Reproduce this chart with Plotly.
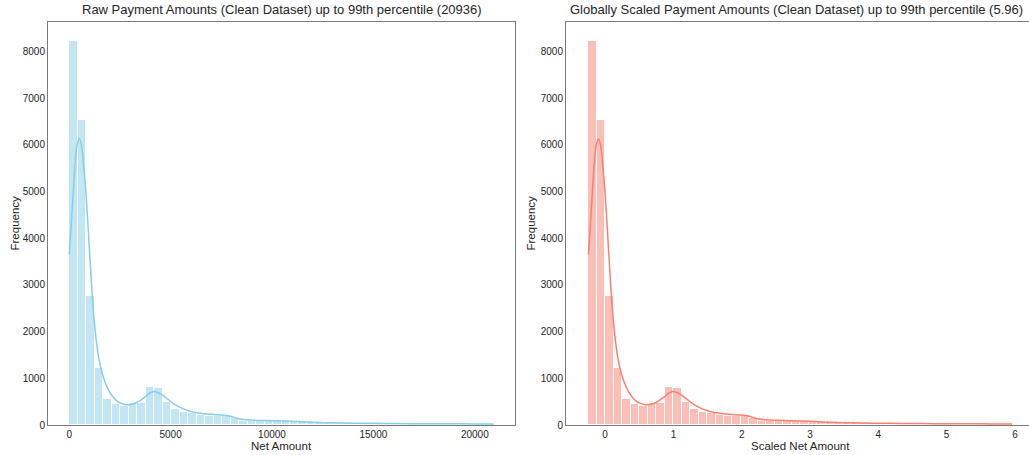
"""
Payment amount histograms (raw vs globally scaled) with KDE overlay
"""

import numpy as np
import plotly.graph_objects as go

# ---- data ----
raw_min, raw_max = 0, 20936
scaled_min, scaled_max = -0.245, 5.96
n_bins = 50

counts = [
    8220, 6540, 2770, 1230, 560, 460, 400, 460, 475, 820,
    790, 500, 340, 275, 250, 220, 200, 195, 190, 145,
    95, 95, 93, 92, 88, 82, 75, 68, 60, 54,
    50, 46, 42, 38, 35, 33, 31, 30, 29, 28,
    27, 26, 25, 24, 23, 22, 22, 21, 20, 20,
]

kde_x = [0, 100, 204, 300, 400, 500, 600, 700, 812, 950, 1100, 1250, 1450,
         1700, 2000, 2400, 2800, 3250, 3650, 4000, 4200, 4450, 4800, 5200,
         5600, 6000, 6500, 7000, 7500, 7900, 8400, 9000, 10000, 11000,
         12000, 13000, 14000, 15000, 16000, 17000, 18000, 19000, 20000, 20936]
kde_y = [3650, 4300, 5040, 5650, 6020, 6130, 6000, 5600, 5040, 4100, 3000,
         2150, 1450, 1000, 700, 500, 435, 465, 570, 690, 720, 680, 575, 440,
         350, 290, 250, 228, 212, 195, 130, 105, 92, 78, 58, 46, 39, 35, 32,
         29, 27, 25, 23, 21]

raw_ticks = [0, 5000, 10000, 15000, 20000]
scaled_ticks = [0, 1, 2, 3, 4, 5, 6]

raw_title = "Raw Payment Amounts (Clean Dataset) up to 99th percentile (20936)"
scaled_title = "Globally Scaled Payment Amounts (Clean Dataset) up to 99th percentile (5.96)"

FONT = "Liberation Sans, Arial, sans-serif"
W, H = 1029, 455
ML, MR, MT, MB = 48, 0, 22, 30
PW = W - ML - MR
PH = H - MT - MB


def px(x):
    # pixel column -> paper fraction
    return (x - ML) / PW


def to_scaled(v):
    v = np.asarray(v, dtype=float)
    return scaled_min + (v - raw_min) * (scaled_max - scaled_min) / (raw_max - raw_min)


def hist_traces(lo, hi, kx, color_fill, color_line, xaxis, yaxis):
    edges = np.linspace(lo, hi, n_bins + 1)
    centers = (edges[:-1] + edges[1:]) / 2
    width = edges[1] - edges[0]
    bars = go.Bar(
        x=centers, y=counts, width=width,
        marker=dict(color=color_fill, line=dict(color="white", width=1)),
        xaxis=xaxis, yaxis=yaxis, showlegend=False,
    )
    line = go.Scatter(
        x=kx, y=kde_y, mode="lines",
        line=dict(color=color_line, width=1.5, shape="spline"),
        xaxis=xaxis, yaxis=yaxis, showlegend=False,
    )
    return [bars, line]


fig = go.Figure()
for t in hist_traces(raw_min, raw_max, kde_x, "rgba(135,206,235,0.5)", "#87CEEB", "x", "y"):
    fig.add_trace(t)
for t in hist_traces(scaled_min, scaled_max, to_scaled(kde_x), "rgba(250,128,114,0.5)", "#FA8072", "x2", "y2"):
    fig.add_trace(t)

# the right panel runs past the image edge in the original, so its right
# border is not drawn and its range is clipped at the paper edge
left_dom = [0, px(515)]
right_dom = [px(566), 1]

axis_common = dict(
    showline=True, linecolor="#7a7a7a", linewidth=1,
    showgrid=False, zeroline=False, ticks="",
    tickfont=dict(family=FONT, size=10, color="#262626"),
)

rpad = (raw_max - raw_min) * 0.05

fig.update_layout(
    width=W, height=H,
    margin=dict(l=ML, r=MR, t=MT, b=MB),
    plot_bgcolor="white", paper_bgcolor="white",
    bargap=0,
    font=dict(family=FONT, color="#262626"),
    xaxis=dict(domain=left_dom, range=[raw_min - rpad, raw_max + rpad],
               tickvals=raw_ticks, ticktext=[str(v) for v in raw_ticks],
               anchor="y", mirror=True, **axis_common),
    yaxis=dict(domain=[0, 1], range=[0, 8630], dtick=1000, anchor="x",
               mirror=True, **axis_common),
    xaxis2=dict(domain=right_dom, range=[-0.573, 6.206],
                tickvals=scaled_ticks, ticktext=[str(v) for v in scaled_ticks],
                anchor="y2", mirror=True, **axis_common),
    yaxis2=dict(domain=[0, 1], range=[0, 8630], dtick=1000, anchor="x2",
                mirror=False, **axis_common),
)

annots = [
    dict(text=raw_title, x=sum(left_dom) / 2, y=1, yshift=3, yanchor="bottom", size=13),
    dict(text=scaled_title, x=px(796), y=1, yshift=3, yanchor="bottom", size=13),
    dict(text="Net Amount", x=sum(left_dom) / 2, y=(425 - 446) / PH, yanchor="middle", size=11.5),
    dict(text="Scaled Net Amount", x=px(800), y=(425 - 446) / PH, yanchor="middle", size=11.5),
    dict(text="Frequency", x=px(14), y=0.5, yanchor="middle", size=11.5, textangle=-90),
    dict(text="Frequency", x=px(530), y=0.5, yanchor="middle", size=11.5, textangle=-90),
]
for a in annots:
    fig.add_annotation(
        text=a["text"], x=a["x"], y=a["y"], xref="paper", yref="paper",
        xanchor="center", yanchor=a["yanchor"], yshift=a.get("yshift", 0),
        textangle=a.get("textangle", 0), showarrow=False,
        font=dict(family=FONT, size=a["size"], color="#262626"),
    )

fig.write_html("out.html", config={"displayModeBar": False},
               post_script="document.body.style.margin='0';")
